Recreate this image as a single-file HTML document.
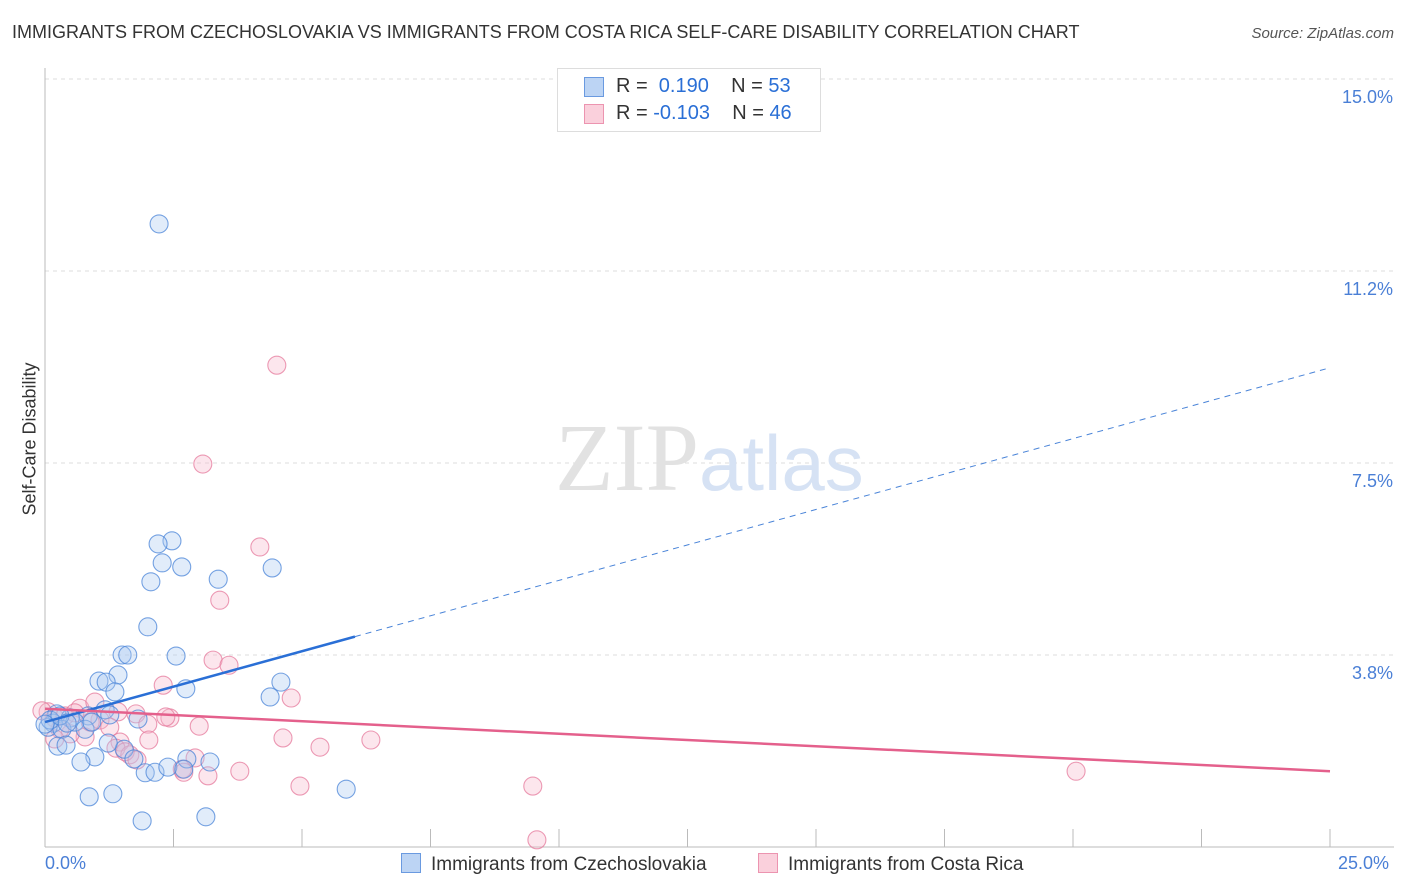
<!DOCTYPE html>
<html><head><meta charset="utf-8"><style>
body{margin:0;background:#fff;font-family:"Liberation Sans",sans-serif;}
#wrap{position:relative;width:1406px;height:892px;overflow:hidden;}
.t{position:absolute;white-space:nowrap;}
</style></head><body>
<div id="wrap">
<div class="t" style="left:12px;top:22px;font-size:18px;color:#333;">IMMIGRANTS FROM CZECHOSLOVAKIA VS IMMIGRANTS FROM COSTA RICA SELF-CARE DISABILITY CORRELATION CHART</div>
<div class="t" style="right:12px;top:25px;font-size:15px;color:#555;font-style:italic;">Source: ZipAtlas.com</div>
<svg id="svg" width="1406" height="892" style="position:absolute;left:0;top:0"></svg>
</div>
<script>
const yTicks=[3.75,7.5,11.25,15];
const yTickLabels=["3.8%","7.5%","11.2%","15.0%"];
const blueX=[2.22,2.47,2.2,2.28,2.66,2.06,3.37,4.42,2.0,1.5,1.61,2.55,1.42,1.05,1.19,2.74,1.36,4.59,4.38,1.81,1.17,0.23,0.49,0.84,0.16,0.06,0.33,0.97,1.54,1.23,0.25,0.41,0.7,1.73,2.76,3.21,1.95,2.14,2.39,2.7,0.86,1.32,5.86,1.89,3.13,0.1,0.58,0.78,0.29,1.26,0.0,0.43,0.91];
const blueY=[12.17,5.98,5.92,5.55,5.47,5.18,5.23,5.45,4.3,3.75,3.75,3.73,3.36,3.24,3.22,3.09,3.03,3.22,2.93,2.50,2.68,2.6,2.52,2.56,2.42,2.34,2.3,1.76,1.91,2.03,1.97,1.99,1.66,1.72,1.72,1.66,1.45,1.46,1.56,1.52,0.98,1.04,1.13,0.51,0.59,2.48,2.44,2.3,2.56,2.58,2.40,2.42,2.44];
const pinkX=[4.51,3.07,4.18,3.4,3.27,3.58,2.3,4.79,1.77,1.42,0.06,0.19,0.39,0.68,0.97,1.07,2.43,2.35,1.26,3.0,2.0,4.63,5.35,6.34,1.46,2.02,1.38,1.65,1.56,1.79,2.92,2.67,3.17,3.79,4.96,2.7,9.49,20.06,9.57,0.78,0.49,0.29,0.88,0.19,-0.06,0.58];
const pinkY=[9.41,7.48,5.86,4.82,3.65,3.55,3.16,2.91,2.60,2.64,2.64,2.52,2.56,2.71,2.83,2.48,2.52,2.54,2.34,2.36,2.40,2.13,1.95,2.09,2.05,2.09,1.93,1.80,1.86,1.70,1.74,1.52,1.39,1.48,1.19,1.46,1.19,1.48,0.14,2.15,2.21,2.3,2.44,2.11,2.66,2.62];
const blueLine=[2.44,9.36], pinkLine=[2.70,1.48], blueSolidEnd=6.03;
const X=v=>45+v*51.4, Y=v=>847-v*51.2;
const svg=document.getElementById('svg');
const NS='http://www.w3.org/2000/svg';
function mk(tag,attrs){const e=document.createElementNS(NS,tag);for(const k in attrs)e.setAttribute(k,attrs[k]);svg.appendChild(e);return e;}
yTicks.forEach((v,i)=>{
 const g=mk('line',{x1:45,x2:1394,y1:Y(v),y2:Y(v),stroke:'#ddd','stroke-dasharray':'4,4'});
 
 
 const t=mk('text',{x:1393,y:Y(v)+24,'text-anchor':'end','font-size':18,fill:'#4a7fd6','font-family':'Liberation Sans, sans-serif'});
 t.textContent=yTickLabels[i];
 
 
});
const ax=mk('line',{x1:45,x2:45,y1:68,y2:847,stroke:'#bbb'});


const bx=mk('line',{x1:45,x2:1394,y1:847,y2:847,stroke:'#bbb'});


for(let i=1;i<=10;i++){const tk=mk('line',{x1:X(i*2.5),x2:X(i*2.5),y1:829,y2:847,stroke:'#bbb'});
 
 }
const wm=mk('text',{x:555,y:490,'text-anchor':'start','font-size':96,fill:'#e2e2e2','font-family':'Liberation Serif, serif'});
wm.innerHTML='ZIP<tspan fill="#d6e2f4" font-family="Liberation Sans, sans-serif" font-size="78">atlas</tspan>';


function dots(xs,ys,fill,stroke,name){xs.forEach((x,i)=>{const c=mk('circle',{cx:X(x),cy:Y(ys[i]),r:9,fill:fill,'fill-opacity':0.35,stroke:stroke,'stroke-opacity':0.75,'stroke-width':1.1});
 
 });}
dots(pinkX,pinkY,'#f7b8cb','#e57a9c','point-costa-rica');
dots(blueX,blueY,'#aac8f0','#4a84d8','point-czechoslovakia');
const bl=blueLine[0]+(blueLine[1]-blueLine[0])*blueSolidEnd/25;
const l1=mk('line',{x1:X(0),y1:Y(blueLine[0]),x2:X(blueSolidEnd),y2:Y(bl),stroke:'#2a6fd6','stroke-width':2.5});


const l2=mk('line',{x1:X(blueSolidEnd),y1:Y(bl),x2:X(25),y2:Y(blueLine[1]),stroke:'#4a84d8','stroke-width':1,'stroke-dasharray':'6,5'});


const l3=mk('line',{x1:X(0),y1:Y(pinkLine[0]),x2:X(25),y2:Y(pinkLine[1]),stroke:'#e4608c','stroke-width':2.5});


</script>
<div class="t" style="left:-30px;top:445px;font-size:18px;color:#333;transform:rotate(-90deg);width:120px;text-align:center;">Self-Care Disability</div>
<div class="t" style="left:45px;top:853px;font-size:18px;color:#4a7fd6;">0.0%</div>
<div class="t" style="left:1338px;top:853px;font-size:18px;color:#4a7fd6;">25.0%</div>
<div style="position:absolute;left:557px;top:68px;width:262px;height:62px;border:1px solid #ddd;background:#fff;font-size:20px;color:#333;">
 <div style="position:absolute;left:26px;top:8px;width:18px;height:18px;background:#bcd4f4;border:1px solid #6a9ae0;"></div>
 <div class="t" style="left:58px;top:6px;">R = &nbsp;<span style="color:#2a6fd6">0.190</span>&nbsp;&nbsp;&nbsp; N = <span style="color:#2a6fd6">53</span></div>
 <div style="position:absolute;left:26px;top:35px;width:18px;height:18px;background:#fad0dc;border:1px solid #ec94b0;"></div>
 <div class="t" style="left:58px;top:33px;">R = <span style="color:#2a6fd6">-0.103</span>&nbsp;&nbsp;&nbsp; N = <span style="color:#2a6fd6">46</span></div>
</div>
<div style="position:absolute;left:401px;top:853px;font-size:19px;color:#333;">
 <span style="display:inline-block;width:18px;height:18px;background:#bcd4f4;border:1px solid #6a9ae0;vertical-align:-3px;margin-right:10px;"></span>Immigrants from Czechoslovakia</div>
<div style="position:absolute;left:758px;top:853px;font-size:19px;color:#333;">
 <span style="display:inline-block;width:18px;height:18px;background:#fad0dc;border:1px solid #ec94b0;vertical-align:-3px;margin-right:10px;"></span>Immigrants from Costa Rica</div>
</body></html>
